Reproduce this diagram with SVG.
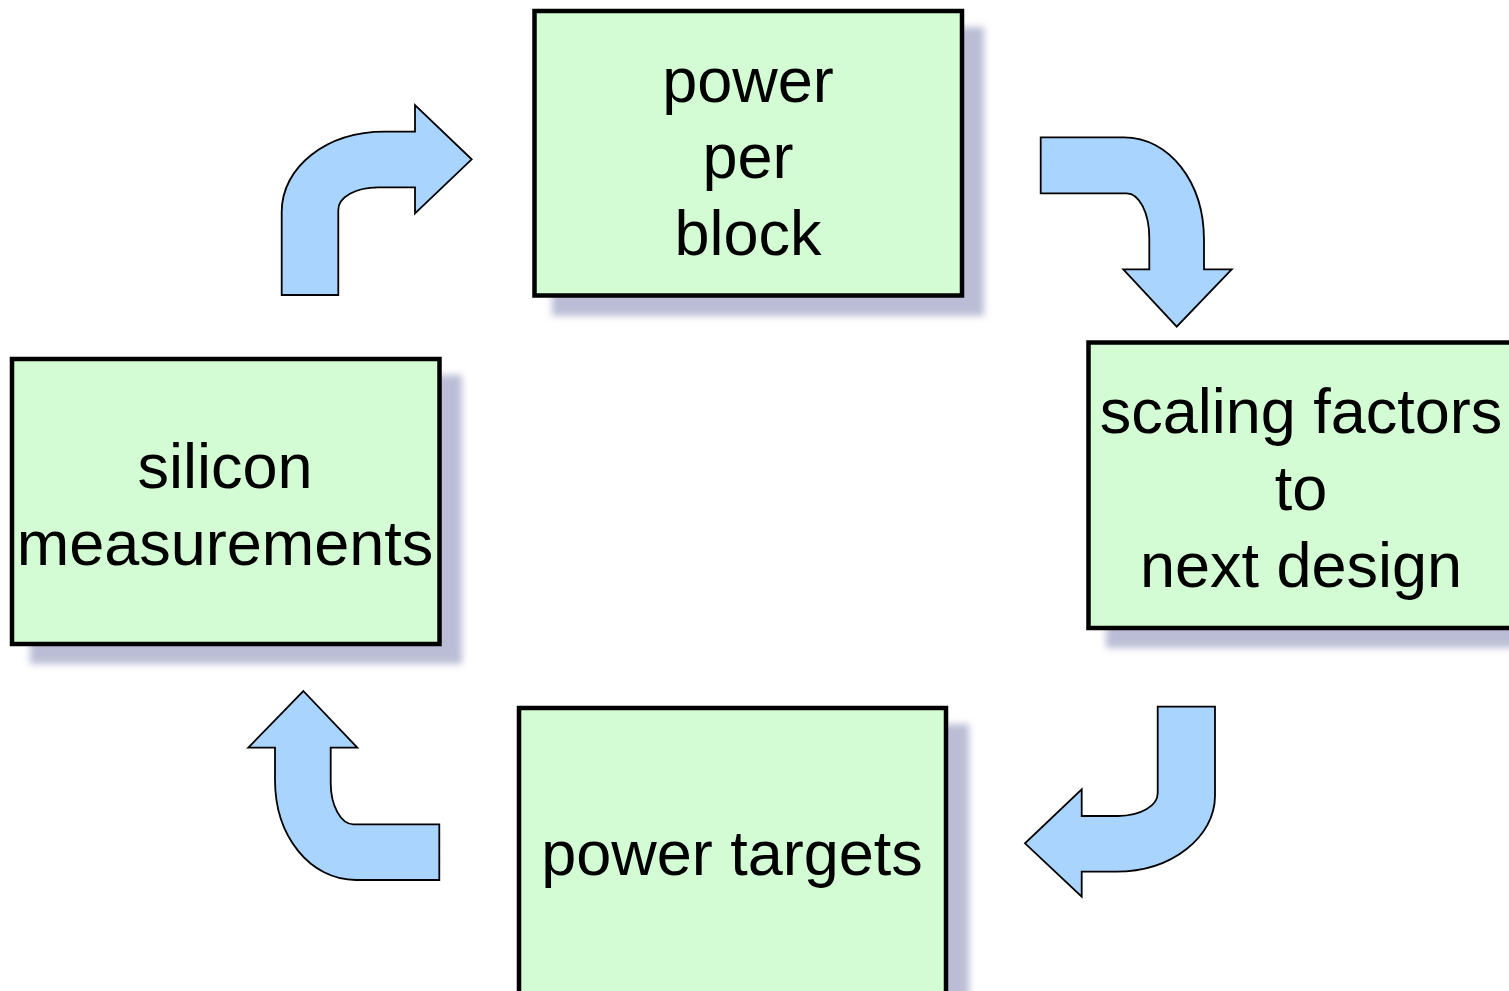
<svg xmlns="http://www.w3.org/2000/svg" width="1509" height="991" viewBox="0 0 1509 991">
<defs>
<filter id="blur" x="-10%" y="-10%" width="120%" height="120%"><feGaussianBlur stdDeviation="3.5"/></filter>
<style>
.shadow{fill:#bbbdd6;filter:url(#blur)}
.box{fill:#d4fcd4;stroke:#000;stroke-width:4.5}
.lbl{font-family:"Liberation Sans",Arial,sans-serif;font-size:63px;fill:#000;text-anchor:middle}
.arrow{fill:#a9d4fe;stroke:#000;stroke-width:1.8;stroke-linejoin:miter}
</style>
</defs>
<rect width="1509" height="991" fill="#fff"/>
<g id="node-power-per-block">
<rect class="shadow" x="552" y="27" width="432" height="289"/>
<rect class="box" x="534.5" y="11" width="427.5" height="284.5"/>
<text class="lbl" x="748" y="102">power</text>
<text class="lbl" x="748" y="178">per</text>
<text class="lbl" x="748" y="255">block</text>
</g>
<g id="node-scaling-factors">
<rect class="shadow" x="1106" y="358" width="432" height="290"/>
<rect class="box" x="1088.5" y="342.5" width="428" height="285.5"/>
<text class="lbl" x="1301" y="433">scaling factors</text>
<text class="lbl" x="1301" y="510">to</text>
<text class="lbl" x="1301" y="587">next design</text>
</g>
<g id="node-silicon-measurements">
<rect class="shadow" x="30" y="375" width="432" height="289"/>
<rect class="box" x="12" y="359" width="427.5" height="285"/>
<text class="lbl" x="225" y="488">silicon</text>
<text class="lbl" x="225" y="565">measurements</text>
</g>
<g id="node-power-targets">
<rect class="shadow" x="537" y="724" width="432" height="300"/>
<rect class="box" x="519" y="708" width="427" height="290"/>
<text class="lbl" x="732" y="875">power targets</text>
</g>
<g id="connectors">
<path class="arrow" d="M281.7,295 L281.7,212 C281.7,167 326.1,131.7 385,131.7 L415,131.7 L415,105 L471.7,159.3 L415,213.3 L415,187.3 L378,187.3 C356,187.3 338.3,197 338.3,210 L338.3,295 Z"/>
<path class="arrow" d="M1040.7,137.3 L1124,137.3 C1169.2,137.3 1204,182 1204,240 L1204,269.3 L1231.7,269.3 L1176.7,326.7 L1123.3,269.3 L1149.3,269.3 L1149.3,238 C1149.3,212.8 1139.1,193.3 1126.7,193.3 L1040.7,193.3 Z"/>
<path class="arrow" d="M1157.7,706.7 L1215,706.7 L1215,796 C1215,836.4 1172.3,871.7 1116,871.7 L1081.7,871.7 L1081.7,896.7 L1025,843.3 L1081.7,789.3 L1081.7,816 L1118,816 C1140.7,816 1157.7,805.8 1157.7,793.3 Z"/>
<path class="arrow" d="M439.3,824.3 L439.3,880 L356,880 C310.2,880 275,836.4 275,780 L275,747.7 L248.3,747.7 L303.3,691 L357.3,747.7 L330.7,747.7 L330.7,783 C330.7,805.7 340.9,824.3 353.3,824.3 Z"/>
</g>
</svg>
